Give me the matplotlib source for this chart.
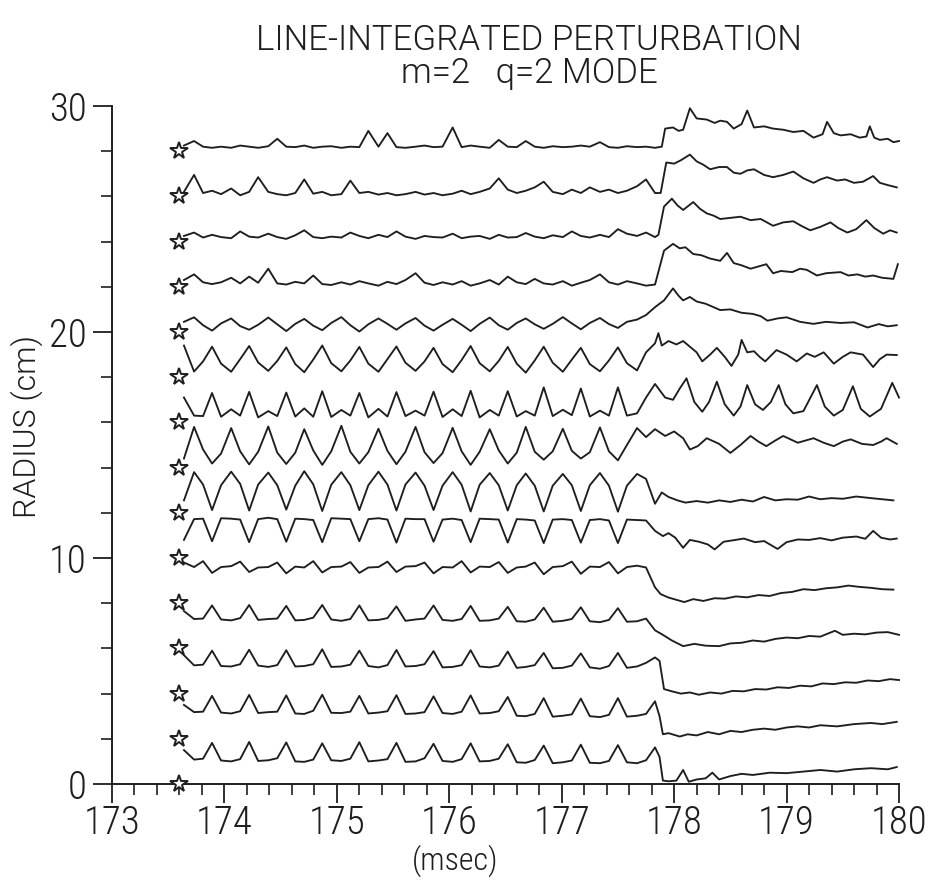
import matplotlib
matplotlib.use("Agg")
import matplotlib.pyplot as plt
from matplotlib.ticker import MultipleLocator

plt.rcParams['font.family'] = ['Roboto Condensed', 'DejaVu Sans']
plt.rcParams['font.weight'] = 300

# sample times (msec) for the part before the crash, 4 per mode period
t_pre = [
    173.64, 173.73, 173.81, 173.89, 173.97, 174.06, 174.14, 174.22,
    174.30, 174.39, 174.47, 174.55, 174.63, 174.71, 174.79, 174.87,
    174.95, 175.04, 175.12, 175.20, 175.28, 175.37, 175.45, 175.53,
    175.61, 175.70, 175.78, 175.86, 175.94, 176.03, 176.11, 176.19,
    176.27, 176.36, 176.44, 176.52, 176.60, 176.68, 176.76, 176.84,
    176.92, 177.01, 177.09, 177.17, 177.25, 177.34, 177.42, 177.50,
    177.58, 177.67, 177.75, 177.83,
]

# star markers (radius of each chord, cm)
star_t = 173.6
star_r = [0, 2, 4, 6, 8, 10, 12, 14, 16, 18, 20, 22, 24, 26, 28]

# traces, bottom to top: values on t_pre, then (t, y) points after the crash
pre_00 = [1.50, 1.08, 1.12, 1.82, 1.04, 1.00, 1.10, 1.86, 1.02, 1.05, 1.14, 1.84,
          1.00, 0.98, 1.08, 1.80, 1.05, 1.02, 1.12, 1.85, 1.00, 1.04, 1.10, 1.82,
          0.98, 1.00, 1.14, 1.78, 1.02, 0.98, 1.10, 1.80, 1.00, 1.02, 1.12, 1.76,
          0.96, 0.94, 1.06, 1.70, 0.92, 0.96, 1.04, 1.74, 0.94, 0.92, 1.02, 1.72,
          0.96, 0.92, 1.05, 1.62]
post_00 = [(177.87, 1.20), (177.90, 0.15), (177.95, 0.12), (178.02, 0.15), (178.08, 0.62),
           (178.13, 0.10), (178.20, 0.20), (178.28, 0.25), (178.34, 0.50), (178.40, 0.20),
           (178.50, 0.35), (178.60, 0.45), (178.70, 0.40), (178.85, 0.50), (179.00, 0.48),
           (179.15, 0.55), (179.30, 0.62), (179.45, 0.55), (179.60, 0.65), (179.75, 0.70),
           (179.90, 0.65), (179.98, 0.75)]

pre_01 = [3.50, 3.18, 3.20, 3.90, 3.16, 3.12, 3.22, 3.94, 3.14, 3.18, 3.20, 3.92,
          3.12, 3.10, 3.24, 3.95, 3.15, 3.14, 3.20, 3.90, 3.12, 3.16, 3.22, 3.93,
          3.10, 3.12, 3.18, 3.88, 3.14, 3.10, 3.20, 3.92, 3.12, 3.14, 3.22, 3.85,
          3.02, 3.00, 3.10, 3.80, 2.98, 3.02, 3.08, 3.78, 3.00, 2.96, 3.06, 3.80,
          2.98, 3.02, 3.10, 3.66]
post_01 = [(177.87, 3.00), (177.90, 2.20), (177.95, 2.25), (178.05, 2.10), (178.12, 2.20),
           (178.20, 2.15), (178.30, 2.30), (178.40, 2.20), (178.50, 2.35), (178.60, 2.30),
           (178.70, 2.40), (178.80, 2.45), (178.90, 2.40), (179.00, 2.50), (179.10, 2.55),
           (179.20, 2.50), (179.30, 2.60), (179.45, 2.55), (179.60, 2.65), (179.75, 2.70),
           (179.85, 2.65), (179.98, 2.75)]

pre_02 = [5.70, 5.25, 5.28, 5.90, 5.22, 5.20, 5.30, 5.94, 5.24, 5.18, 5.26, 5.92,
          5.20, 5.22, 5.30, 5.96, 5.18, 5.20, 5.28, 5.90, 5.22, 5.16, 5.26, 5.93,
          5.20, 5.22, 5.30, 5.88, 5.16, 5.18, 5.26, 5.92, 5.20, 5.16, 5.24, 5.86,
          5.14, 5.18, 5.26, 5.80, 5.12, 5.14, 5.24, 5.78, 5.16, 5.10, 5.22, 5.80,
          5.14, 5.20, 5.36, 5.60]
post_02 = [(177.87, 5.45), (177.91, 4.20), (177.98, 4.10), (178.06, 4.00), (178.14, 4.05),
           (178.22, 3.95), (178.32, 4.05), (178.42, 4.00), (178.52, 4.12), (178.62, 4.10),
           (178.72, 4.20), (178.82, 4.18), (178.92, 4.28), (179.02, 4.25), (179.12, 4.35),
           (179.22, 4.32), (179.32, 4.45), (179.42, 4.42), (179.52, 4.50), (179.62, 4.48),
           (179.72, 4.58), (179.82, 4.55), (179.92, 4.64), (180.00, 4.60)]

pre_03 = [7.65, 7.30, 7.32, 7.90, 7.28, 7.24, 7.34, 7.92, 7.26, 7.30, 7.32, 7.88,
          7.24, 7.26, 7.36, 7.92, 7.28, 7.22, 7.30, 7.90, 7.24, 7.26, 7.34, 7.86,
          7.22, 7.28, 7.32, 7.90, 7.26, 7.22, 7.30, 7.88, 7.22, 7.24, 7.32, 7.84,
          7.20, 7.18, 7.28, 7.80, 7.18, 7.22, 7.30, 7.82, 7.20, 7.16, 7.26, 7.78,
          7.18, 7.20, 7.32, 6.80]
post_03 = [(177.90, 6.60), (177.98, 6.35), (178.08, 6.10), (178.18, 6.20), (178.28, 6.12),
           (178.40, 6.10), (178.50, 6.22), (178.60, 6.25), (178.70, 6.35), (178.80, 6.30),
           (178.90, 6.42), (179.00, 6.48), (179.10, 6.45), (179.20, 6.55), (179.30, 6.52),
           (179.43, 6.78), (179.50, 6.60), (179.60, 6.65), (179.70, 6.62), (179.80, 6.70),
           (179.90, 6.72), (180.00, 6.60)]

pre_04 = [9.80, 9.60, 9.86, 9.34, 9.60, 9.64, 9.84, 9.38, 9.58, 9.60, 9.80, 9.32,
          9.62, 9.58, 9.86, 9.36, 9.60, 9.62, 9.82, 9.34, 9.58, 9.60, 9.84, 9.38,
          9.62, 9.64, 9.80, 9.32, 9.60, 9.58, 9.86, 9.36, 9.62, 9.60, 9.82, 9.34,
          9.58, 9.62, 9.80, 9.28, 9.60, 9.64, 9.84, 9.30, 9.62, 9.60, 9.82, 9.32,
          9.60, 9.66, 9.58, 8.70]
post_04 = [(177.88, 8.40), (177.95, 8.25), (178.02, 8.15), (178.09, 8.05), (178.17, 8.18),
           (178.26, 8.10), (178.36, 8.22), (178.45, 8.20), (178.55, 8.30), (178.65, 8.26),
           (178.75, 8.36), (178.85, 8.32), (178.95, 8.45), (179.05, 8.50), (179.15, 8.62),
           (179.25, 8.58), (179.35, 8.66), (179.45, 8.70), (179.55, 8.78), (179.65, 8.72),
           (179.75, 8.68), (179.85, 8.62), (179.95, 8.60)]

pre_05 = [10.80, 11.72, 11.74, 10.74, 11.76, 11.74, 11.70, 10.70, 11.72, 11.78, 11.72, 10.72,
          11.74, 11.72, 11.68, 10.70, 11.76, 11.74, 11.72, 10.74, 11.72, 11.76, 11.70, 10.68,
          11.74, 11.72, 11.72, 10.72, 11.70, 11.74, 11.68, 10.70, 11.74, 11.72, 11.70, 10.68,
          11.72, 11.70, 11.66, 10.66, 11.70, 11.72, 11.68, 10.68, 11.68, 11.72, 11.66, 10.66,
          11.70, 11.68, 11.66, 11.20]
post_05 = [(177.90, 10.97), (177.95, 11.10), (178.01, 10.90), (178.08, 10.45), (178.14, 10.80),
           (178.22, 10.72), (178.30, 10.60), (178.36, 10.38), (178.44, 10.72), (178.52, 10.78),
           (178.62, 10.86), (178.72, 10.70), (178.80, 10.75), (178.92, 10.40), (179.00, 10.70),
           (179.10, 10.82), (179.20, 10.80), (179.30, 10.88), (179.40, 10.78), (179.50, 10.90),
           (179.62, 10.95), (179.70, 10.85), (179.77, 11.20), (179.84, 10.90), (179.92, 10.82),
           (179.98, 10.86)]

pre_06 = [12.55, 13.80, 13.25, 12.12, 13.22, 13.82, 13.28, 12.10, 13.25, 13.78, 13.22, 12.14,
          13.20, 13.84, 13.26, 12.08, 13.24, 13.80, 13.22, 12.12, 13.22, 13.82, 13.25, 12.10,
          13.25, 13.78, 13.20, 12.12, 13.20, 13.80, 13.24, 12.06, 13.24, 13.76, 13.22, 12.10,
          13.22, 13.74, 13.20, 12.06, 13.20, 13.72, 13.22, 12.08, 13.22, 13.76, 13.20, 12.05,
          13.20, 13.72, 13.50, 12.40]
post_06 = [(177.89, 12.90), (177.95, 12.70), (178.03, 12.55), (178.10, 12.45), (178.20, 12.52),
           (178.30, 12.45), (178.40, 12.55), (178.50, 12.48), (178.60, 12.58), (178.70, 12.50),
           (178.80, 12.70), (178.90, 12.55), (179.00, 12.60), (179.10, 12.58), (179.20, 12.72),
           (179.30, 12.60), (179.40, 12.65), (179.50, 12.62), (179.62, 12.72), (179.75, 12.65),
           (179.85, 12.60), (179.95, 12.55)]

pre_07 = [14.40, 15.80, 14.80, 14.18, 14.62, 15.75, 14.72, 14.14, 14.70, 15.82, 14.66, 14.16,
          14.66, 15.70, 14.76, 14.12, 14.72, 15.85, 14.70, 14.18, 14.68, 15.72, 14.74, 14.15,
          14.70, 15.80, 14.68, 14.20, 14.64, 15.76, 14.72, 14.12, 14.70, 15.70, 14.76, 14.18,
          14.66, 15.80, 14.70, 14.35, 14.72, 15.72, 14.74, 14.40, 14.68, 15.78, 14.72, 14.32,
          15.00, 15.75, 15.35, 15.70]
post_07 = [(177.92, 15.40), (178.00, 15.60), (178.08, 15.30), (178.14, 14.80), (178.21, 14.95),
           (178.29, 15.30), (178.40, 15.05), (178.50, 14.65), (178.59, 15.00), (178.68, 15.40),
           (178.75, 15.15), (178.82, 14.95), (178.90, 15.20), (178.97, 15.40), (179.10, 15.10),
           (179.24, 15.30), (179.33, 15.10), (179.42, 14.95), (179.50, 15.15), (179.57, 15.25),
           (179.67, 15.05), (179.77, 15.00), (179.84, 15.15), (179.89, 15.30), (179.98, 15.05)]

pre_08 = [17.10, 16.30, 16.28, 17.30, 16.25, 16.58, 16.30, 17.35, 16.22, 16.50, 16.28, 17.32,
          16.26, 16.62, 16.25, 17.38, 16.24, 16.55, 16.30, 17.30, 16.22, 16.60, 16.26, 17.34,
          16.28, 16.52, 16.30, 17.36, 16.24, 16.58, 16.28, 17.40, 16.22, 16.55, 16.30, 17.38,
          16.26, 16.50, 16.30, 17.55, 16.28, 16.56, 16.32, 17.50, 16.26, 16.52, 16.30, 17.55,
          16.30, 16.40, 17.10, 17.70]
post_08 = [(177.92, 17.10), (177.99, 17.00), (178.05, 17.50), (178.11, 17.95), (178.18, 16.90),
           (178.25, 16.47), (178.31, 16.90), (178.38, 17.80), (178.45, 16.80), (178.53, 16.30),
           (178.59, 16.70), (178.65, 17.65), (178.72, 16.80), (178.79, 16.55), (178.86, 16.90),
           (178.93, 17.65), (178.99, 16.80), (179.06, 16.40), (179.15, 16.50), (179.27, 17.65),
           (179.34, 16.70), (179.42, 16.30), (179.50, 16.55), (179.59, 17.60), (179.66, 16.60),
           (179.74, 16.26), (179.84, 16.60), (179.94, 17.75), (180.00, 17.10)]

pre_09 = [19.40, 18.25, 18.70, 19.35, 18.60, 18.24, 18.80, 19.38, 18.65, 18.28, 18.72, 19.32,
          18.58, 18.22, 18.78, 19.40, 18.62, 18.26, 18.74, 19.34, 18.60, 18.24, 18.80, 19.36,
          18.64, 18.28, 18.70, 19.30, 18.58, 18.22, 18.76, 19.38, 18.62, 18.26, 18.72, 19.34,
          18.60, 18.20, 18.74, 19.35, 18.64, 18.24, 18.78, 19.30, 18.58, 18.26, 18.74, 19.32,
          18.62, 18.30, 19.10, 19.50]
post_09 = [(177.86, 19.95), (177.89, 19.40), (177.95, 19.60), (178.02, 19.45), (178.08, 19.60),
           (178.14, 19.35), (178.20, 19.10), (178.25, 18.70), (178.32, 19.00), (178.38, 19.30),
           (178.45, 18.90), (178.51, 18.50), (178.57, 19.00), (178.60, 19.65), (178.65, 19.10),
           (178.71, 19.15), (178.76, 18.90), (178.81, 18.70), (178.91, 19.20), (179.00, 19.00),
           (179.09, 18.70), (179.18, 19.05), (179.25, 18.90), (179.33, 19.10), (179.42, 18.60),
           (179.50, 18.90), (179.57, 19.10), (179.68, 19.00), (179.77, 18.45), (179.83, 18.80),
           (179.89, 19.00), (179.98, 18.98)]

pre_10 = [20.45, 20.65, 20.30, 20.06, 20.38, 20.60, 20.26, 20.10, 20.32, 20.64, 20.34, 20.04,
          20.36, 20.58, 20.28, 20.08, 20.40, 20.66, 20.30, 20.02, 20.34, 20.60, 20.36, 20.10,
          20.38, 20.62, 20.28, 20.06, 20.32, 20.58, 20.32, 20.04, 20.36, 20.64, 20.30, 20.10,
          20.40, 20.60, 20.34, 20.14, 20.36, 20.66, 20.38, 20.12, 20.40, 20.62, 20.35, 20.18,
          20.45, 20.55, 20.75, 21.10]
post_10 = [(177.91, 21.40), (177.99, 21.93), (178.04, 21.60), (178.08, 21.40), (178.14, 21.55),
           (178.20, 21.35), (178.28, 21.25), (178.35, 21.10), (178.41, 20.97), (178.50, 21.00),
           (178.60, 20.85), (178.70, 20.80), (178.77, 20.70), (178.83, 20.50), (178.92, 20.60),
           (179.00, 20.65), (179.12, 20.45), (179.24, 20.36), (179.35, 20.45), (179.48, 20.40),
           (179.60, 20.43), (179.72, 20.20), (179.82, 20.35), (179.90, 20.25), (179.98, 20.30)]

pre_11 = [22.30, 22.55, 22.20, 22.12, 22.20, 22.40, 22.15, 22.45, 22.18, 22.80, 22.15, 22.10,
          22.22, 22.15, 22.50, 22.12, 22.08, 22.20, 22.10, 22.25, 22.15, 22.05, 22.22, 22.12,
          22.30, 22.60, 22.18, 22.08, 22.20, 22.10, 22.25, 22.05, 22.15, 22.30, 22.10, 22.45,
          22.20, 22.12, 22.35, 22.15, 22.10, 22.25, 22.05, 22.18, 22.30, 22.55, 22.20, 22.10,
          22.25, 22.15, 22.05, 22.10]
post_11 = [(177.91, 23.60), (177.99, 23.90), (178.05, 23.70), (178.10, 23.75), (178.17, 23.45),
           (178.24, 23.40), (178.32, 23.25), (178.41, 23.15), (178.47, 23.50), (178.53, 23.05),
           (178.60, 22.95), (178.68, 22.80), (178.75, 22.90), (178.82, 23.00), (178.88, 22.60),
           (178.95, 22.70), (179.05, 22.65), (179.12, 22.80), (179.18, 22.75), (179.27, 22.50),
           (179.35, 22.60), (179.48, 22.65), (179.55, 22.50), (179.63, 22.55), (179.70, 22.45),
           (179.77, 22.50), (179.85, 22.40), (179.95, 22.35), (179.99, 23.00)]

pre_12 = [24.25, 24.40, 24.18, 24.30, 24.20, 24.15, 24.45, 24.22, 24.18, 24.35, 24.20, 24.12,
          24.28, 24.50, 24.20, 24.15, 24.22, 24.18, 24.40, 24.25, 24.15, 24.30, 24.20, 24.45,
          24.22, 24.12, 24.25, 24.20, 24.18, 24.35, 24.15, 24.22, 24.25, 24.12, 24.30, 24.18,
          24.20, 24.38, 24.22, 24.15, 24.28, 24.20, 24.45, 24.25, 24.18, 24.30, 24.20, 24.55,
          24.35, 24.25, 24.40, 24.20]
post_12 = [(177.86, 24.30), (177.91, 25.55), (177.98, 25.90), (178.03, 25.60), (178.08, 25.40),
           (178.17, 25.75), (178.23, 25.45), (178.29, 25.25), (178.35, 25.15), (178.41, 25.00),
           (178.50, 25.05), (178.59, 25.10), (178.68, 24.95), (178.77, 25.00), (178.88, 24.70),
           (178.97, 24.85), (179.06, 24.90), (179.13, 24.70), (179.21, 24.50), (179.30, 24.65),
           (179.39, 24.85), (179.46, 24.60), (179.54, 24.40), (179.62, 24.55), (179.71, 24.95),
           (179.78, 24.60), (179.86, 24.35), (179.92, 24.50), (179.98, 24.40)]

pre_13 = [26.20, 26.95, 26.15, 26.25, 26.10, 26.35, 26.05, 26.20, 26.85, 26.20, 26.10, 26.05,
          26.15, 26.75, 26.12, 26.20, 26.05, 26.10, 26.70, 26.15, 26.20, 26.08, 26.15, 26.05,
          26.10, 26.20, 26.08, 26.15, 26.05, 26.12, 26.25, 26.10, 26.20, 26.35, 26.80, 26.30,
          26.15, 26.25, 26.40, 26.65, 26.20, 26.10, 26.30, 26.15, 26.40, 26.20, 26.30, 26.15,
          26.25, 26.45, 26.75, 26.15]
post_13 = [(177.88, 26.15), (177.93, 27.50), (178.00, 27.45), (178.06, 27.60), (178.14, 27.85),
           (178.20, 27.55), (178.26, 27.40), (178.32, 27.20), (178.40, 27.30), (178.47, 27.30),
           (178.53, 27.05), (178.59, 27.00), (178.65, 27.15), (178.71, 27.20), (178.80, 26.95),
           (178.88, 26.85), (178.97, 26.95), (179.06, 27.10), (179.15, 26.80), (179.24, 26.60),
           (179.30, 26.75), (179.36, 26.85), (179.45, 26.70), (179.52, 26.75), (179.60, 26.60),
           (179.68, 26.65), (179.77, 26.90), (179.83, 26.60), (179.90, 26.50), (179.98, 26.40)]

pre_14 = [28.25, 28.45, 28.20, 28.15, 28.20, 28.15, 28.25, 28.20, 28.15, 28.22, 28.55, 28.20,
          28.18, 28.25, 28.15, 28.20, 28.22, 28.15, 28.20, 28.18, 28.90, 28.20, 28.80, 28.18,
          28.15, 28.20, 28.25, 28.18, 28.20, 29.05, 28.18, 28.25, 28.20, 28.15, 28.50, 28.20,
          28.18, 28.45, 28.20, 28.15, 28.22, 28.18, 28.20, 28.25, 28.20, 28.40, 28.18, 28.15,
          28.22, 28.18, 28.20, 28.15]
post_14 = [(177.89, 28.20), (177.92, 29.00), (177.99, 29.05), (178.04, 28.90), (178.08, 28.95),
           (178.14, 29.90), (178.20, 29.45), (178.29, 29.40), (178.36, 29.25), (178.41, 29.35),
           (178.47, 29.30), (178.53, 29.00), (178.60, 29.20), (178.65, 29.80), (178.71, 29.05),
           (178.80, 29.10), (178.88, 29.00), (178.97, 28.95), (179.06, 28.85), (179.15, 28.90),
           (179.24, 28.60), (179.32, 28.75), (179.36, 29.30), (179.42, 28.80), (179.48, 28.70),
           (179.57, 28.75), (179.65, 28.60), (179.71, 28.65), (179.74, 29.10), (179.78, 28.60),
           (179.83, 28.50), (179.90, 28.55), (179.95, 28.40), (180.00, 28.45)]

traces = [
    (pre_00, post_00), (pre_01, post_01), (pre_02, post_02), (pre_03, post_03),
    (pre_04, post_04), (pre_05, post_05), (pre_06, post_06), (pre_07, post_07),
    (pre_08, post_08), (pre_09, post_09), (pre_10, post_10), (pre_11, post_11),
    (pre_12, post_12), (pre_13, post_13), (pre_14, post_14),
]

ink = '#1e1e1e'
fig = plt.figure(figsize=(9.35, 8.86), dpi=100)
ax = fig.add_axes([112 / 935, 1 - 784 / 886, 787 / 935, 678 / 886])

for pre, post in traces:
    t = list(t_pre) + [p[0] for p in post]
    y = list(pre) + [p[1] for p in post]
    ax.plot(t, y, color=ink, lw=1.35, clip_on=False)

ax.plot([star_t] * len(star_r), star_r, ls='none', marker='*', ms=13,
        mfc='white', mec=ink, mew=1.4, clip_on=False, zorder=5)

ax.set_xlim(173, 180)
ax.set_ylim(0, 30)
for s in ['top', 'right']:
    ax.spines[s].set_visible(False)
for s in ['left', 'bottom']:
    ax.spines[s].set_linewidth(1.4)
    ax.spines[s].set_color(ink)

ax.set_xticks(range(173, 181))
ax.set_yticks([0, 10, 20, 30])
ax.xaxis.set_minor_locator(MultipleLocator(0.2))
ax.yaxis.set_minor_locator(MultipleLocator(2))
ax.tick_params(which='major', direction='out', length=14, width=1.3, color=ink,
               labelsize=28, labelcolor=ink)
ax.tick_params(axis='x', which='major', pad=1)
ax.tick_params(axis='y', which='major', pad=4)
ax.tick_params(which='minor', direction='out', length=8, width=1.2, color=ink)

title_font = dict(family=['Roboto', 'DejaVu Sans'], weight=300, color=ink)
fig.text(529 / 935, 1 - 40 / 886, 'LINE-INTEGRATED PERTURBATION', ha='center', va='center',
         fontsize=25, **title_font)
fig.text(529 / 935, 1 - 73 / 886, 'm=2   q=2 MODE', ha='center', va='center',
         fontsize=25, **title_font)
fig.text(455 / 935, 1 - 861 / 886, '(msec)', ha='center', va='center', fontsize=23, color=ink)
fig.text(27 / 935, 1 - 426 / 886, 'RADIUS (cm)', ha='center', va='center', rotation=90,
         fontsize=23, **title_font)

fig.savefig('out.png', dpi=100, facecolor='white')
